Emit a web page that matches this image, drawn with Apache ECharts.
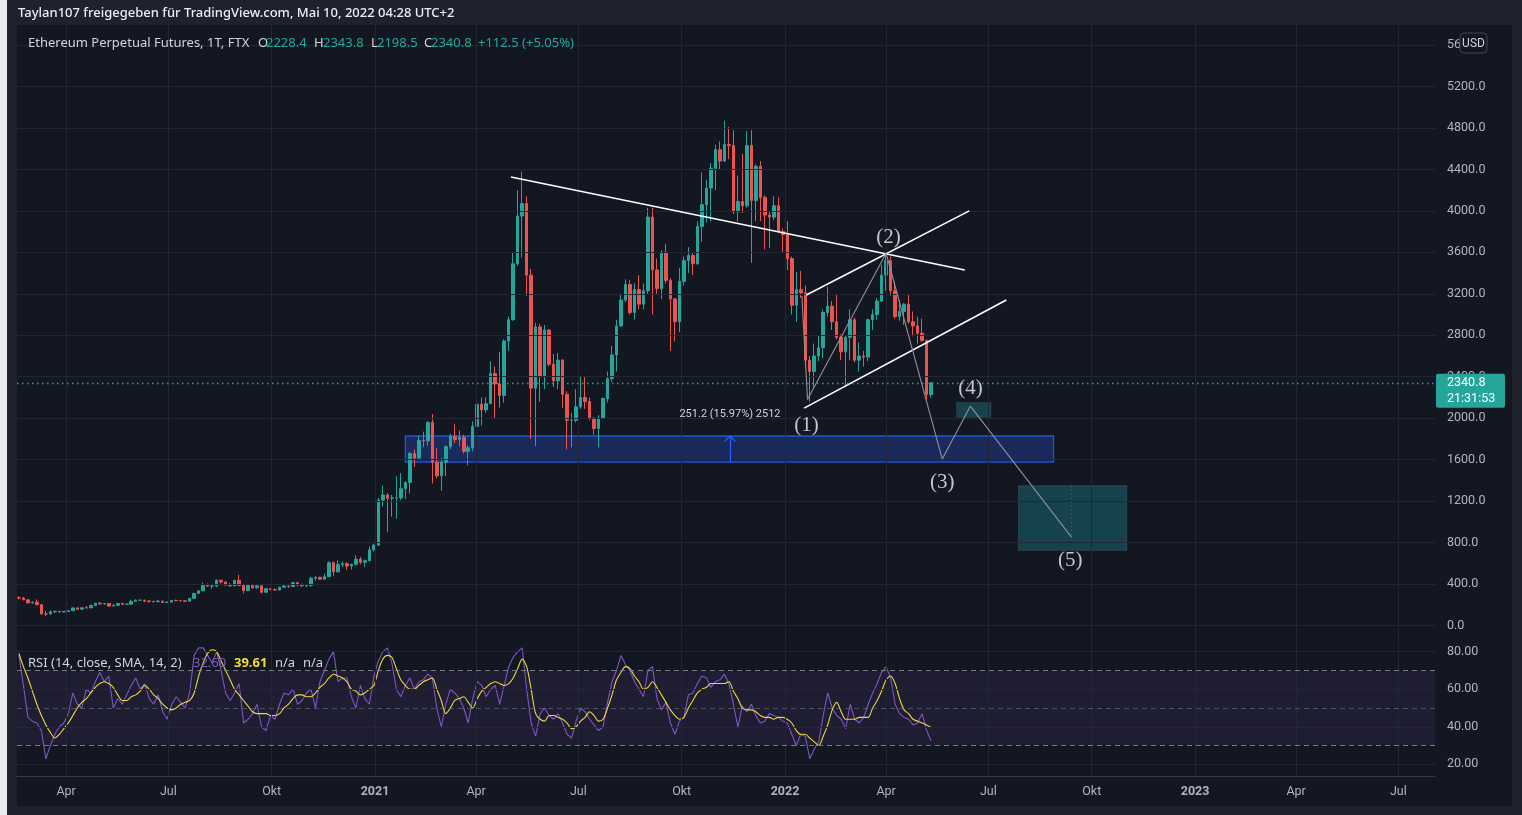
<!DOCTYPE html>
<html><head><meta charset="utf-8">
<script src="https://cdn.jsdelivr.net/npm/echarts@6/dist/echarts.min.js"></script>
<style>
html,body{margin:0;padding:0;width:1522px;height:815px;overflow:hidden;background:#1e222d;}
#strip{position:absolute;left:0;top:0;width:7px;height:815px;background:#e8eaef;}
#pane{position:absolute;left:17px;top:25px;width:1495px;height:781px;background:#131722;}
#chart{position:absolute;left:0;top:0;width:1522px;height:815px;}
</style></head><body>
<div id="strip"></div><div id="pane"></div><div id="chart"></div>
<script>
// ---------- data (4-day candles, ETH-PERP FTX) ----------
const candleStart = '2020-02-18';
const stepDays = 4;
const openV = [
267,265,248,218,225,200,112,110,133,138,
131,136,143,170,158,171,170,194,215,209,
212,188,195,213,206,206,232,244,244,237,
233,229,235,222,226,242,240,238,235,262,
310,335,386,380,380,437,420,390,383,435,
386,337,385,364,383,321,355,345,343,370,
381,377,413,393,385,385,455,465,447,471,
605,518,588,596,574,590,640,610,625,730,
775,1210,1260,1228,1230,1232,1320,1380,1660,1615,
1785,1780,1960,1575,1445,1575,1725,1825,1795,1815,
1680,1715,1920,2135,2080,2140,2430,2330,2220,2745,
2950,3490,3950,4070,3380,2290,2880,2400,2850,2520,
2360,2560,2230,1980,1980,2110,2200,2160,2000,1900,
2000,2190,2380,2610,2890,3140,3290,3020,3240,3100,
3230,3940,3430,3250,3600,3330,3150,2930,3320,3520,
3570,3490,3850,4060,4220,4410,4590,4480,4640,4630,
3990,4090,4050,4630,4100,4430,4130,3960,3940,4050,
3800,3770,3540,3090,3240,3210,2560,2450,2600,2680,
3020,3080,2930,2780,2640,2780,2950,2560,2600,2590,
2950,3000,3130,3380,3520,3230,2980,3030,3100,2930,
2890,2820,2750,2228.4];
const closeV = [
265,248,218,225,200,112,110,133,138,131,
136,143,170,158,171,170,194,215,209,212,
188,195,213,206,206,232,244,244,237,233,
229,235,222,226,242,240,238,235,262,310,
335,386,380,380,437,420,390,383,435,386,
337,385,364,383,321,355,345,343,370,381,
377,413,393,385,385,455,465,447,471,605,
518,588,596,574,590,640,610,625,730,775,
1210,1260,1228,1230,1232,1320,1380,1660,1615,1785,
1780,1960,1575,1445,1575,1725,1825,1795,1815,1680,
1715,1920,2135,2080,2140,2430,2330,2220,2745,2950,
3490,3950,4070,3380,2290,2880,2400,2850,2520,2360,
2560,2230,1980,1980,2110,2200,2160,2000,1900,2000,
2190,2380,2610,2890,3140,3290,3020,3240,3100,3230,
3940,3430,3250,3600,3330,3150,2930,3320,3520,3570,
3490,3850,4060,4220,4410,4590,4480,4640,4630,3990,
4090,4050,4630,4100,4430,4130,3960,3940,4050,3800,
3770,3540,3090,3240,3210,2560,2450,2600,2680,3020,
3080,2930,2780,2640,2780,2950,2560,2600,2590,2950,
3000,3130,3380,3520,3230,2980,3030,3100,2930,2890,
2820,2750,2228.4,2340.8];
const lowV = [
250,245,215,212,198,105,90,108,120,126,
124,135,142,150,152,168,169,193,200,198,
180,185,194,198,197,205,228,238,225,218,
223,226,218,221,223,235,235,228,233,260,
303,330,377,355,370,405,385,376,380,380,
310,330,355,355,310,316,340,338,338,365,
362,370,378,370,370,375,435,440,445,468,
480,510,565,535,540,580,590,565,620,715,
770,1150,900,1050,1030,1210,1220,1275,1530,1600,
1720,1735,1370,1420,1300,1440,1700,1760,1730,1660,
1545,1680,1900,1930,2050,2135,2000,2100,2150,2650,
2940,3470,3550,3180,1800,1730,2160,2280,2500,2300,
2280,2100,1700,1720,1960,2090,2090,1980,1840,1720,
1990,2150,2350,2450,2880,3120,3000,2950,3050,3050,
3200,3000,3200,3150,3300,2650,2740,2830,3280,3400,
3380,3480,3700,3890,3900,4200,4400,4470,4500,3970,
3900,3980,4030,3500,3900,3900,3630,3640,3910,3790,
3600,3430,3000,2930,3160,2500,2160,2300,2550,2580,
2980,2850,2760,2560,2300,2560,2540,2450,2500,2550,
2850,2950,3120,3230,3180,2960,2940,2900,2910,2790,
2720,2740,2180,2198.5];
const highV = [
285,275,250,232,252,205,140,145,140,140,
137,147,175,173,175,188,195,218,227,215,
216,205,215,216,210,248,253,249,249,239,
237,248,236,231,243,250,243,240,265,315,
337,415,405,398,443,440,424,410,440,490,
390,387,390,395,385,360,363,358,372,392,
385,415,420,405,395,470,475,470,500,620,
620,630,620,610,595,678,660,635,760,790,
1230,1350,1275,1260,1440,1470,1390,1675,1695,1830,
1870,1970,2040,1710,1620,1740,1850,1945,1880,1840,
1740,1970,2145,2200,2200,2550,2500,2640,2760,2980,
3600,4200,4380,4140,3440,2920,2910,2900,2860,2620,
2630,2570,2260,2050,2280,2400,2400,2200,2010,2030,
2200,2450,2700,2950,3200,3340,3330,3300,3380,3300,
4030,4030,3540,3620,3680,3350,3160,3450,3560,3650,
3600,3900,4370,4300,4460,4640,4670,4870,4810,4780,
4340,4550,4770,4780,4450,4480,4150,4000,4140,4130,
3830,3900,3560,3410,3420,3280,2600,2720,2800,3050,
3270,3130,3190,2810,2800,3050,2970,2730,2650,2960,
3050,3160,3480,3580,3560,3320,3140,3110,3190,3030,
2980,2960,2760,2343.8];
const rsiV = [
78,62,45,43,42,38,23,30,36,40,
42,47,58,52,50,60,58,64,69,64,
67,50,55,52,57,62,66,60,63,55,
52,57,48,44,52,56,53,50,58,78,
82,82,78,74,80,70,58,54,58,63,
42,44,47,52,40,38,46,44,52,58,
57,60,52,54,58,60,50,64,70,76,
80,64,66,66,56,50,62,55,52,67,
75,80,82,74,60,56,62,66,60,64,
65,68,66,50,40,52,60,58,55,50,
42,55,64,62,56,60,62,52,62,72,
77,80,82,60,42,35,47,50,46,44,
47,42,36,34,43,50,48,44,41,38,
40,53,64,70,78,73,70,64,60,56,
70,72,55,49,53,42,36,43,45,57,
58,63,67,66,61,64,65,68,63,52,
40,51,48,52,46,42,43,47,46,45,
43,42,36,30,36,35,23,28,32,46,
58,50,46,44,39,52,44,42,45,52,
58,63,69,72,66,52,47,45,44,41,
42,47,38,32.6];
const rsiSmaV = [
79,72,66,59,52,46,41,37,34,36,
39,42,46,50,53,55,58,61,63,64,
63,61,57,54,54,56,57,59,62,60,
57,55,52,50,49,50,52,53,54,58,
67,74,79,81,80,75,70,65,60,57,
54,51,48,47,47,47,46,46,47,50,
52,55,57,57,56,56,58,61,63,66,
68,67,66,64,60,59,57,58,60,62,
70,76,78,77,71,65,62,60,60,62,
64,65,66,60,54,47,50,54,55,56,
53,50,55,59,61,63,64,63,62,63,
66,71,76,72,60,47,44,43,46,46,
45,44,42,39,40,43,45,48,46,43,
44,50,57,65,69,72,71,67,64,60,
61,64,61,57,53,49,46,44,45,50,
54,58,60,61,63,63,63,63,64,59,
55,50,49,49,48,46,45,45,44,45,
45,44,42,38,36,36,34,32,30,35,
41,49,53,48,44,44,44,45,45,45,
50,54,59,65,67,63,55,49,47,44,
43,42,41,39.61];
const priceTicks = [0,400,800,1200,1600,2000,2400,2800,3200,3600,4000,4400,4800,5200,5600];
const rsiTicks = [20,40,60,80];
const rsiLevels = [30,50,70];
const timeTicks = [['2020-04-01','Apr'],['2020-07-01','Jul'],['2020-10-01','Okt'],['2021-01-01','2021'],
  ['2021-04-01','Apr'],['2021-07-01','Jul'],['2021-10-01','Okt'],['2022-01-01','2022'],['2022-04-01','Apr'],
  ['2022-07-01','Jul'],['2022-10-01','Okt'],['2023-01-01','2023'],['2023-04-01','Apr'],['2023-07-01','Jul']];
// drawings (date, price)
const resistanceLine = [['2021-05-02',4327],['2022-06-10',3430]];
const channelUpper = [['2022-01-20',3189],['2022-06-14',4000]];
const channelLower = [['2022-01-18',2097],['2022-07-17',3140]];
const wavePath = [['2022-01-16',3179],['2022-01-21',2180],['2022-04-01',3591],['2022-05-21',1606],['2022-06-15',2117],['2022-09-13',853]];
const waveLabels = [['2022-01-20',1934,'(1)'],['2022-04-03',3748,'(2)'],['2022-05-21',1384,'(3)'],['2022-06-15',2291,'(4)'],['2022-09-12',632,'(5)']];
const supportZone = [['2021-01-28',1828],['2022-08-28',1577]];
const target4Zone = [['2022-06-03',2147],['2022-07-03',2012]];
const target5Zone = [['2022-07-28',1346],['2022-11-01',728]];
const measure = {date:'2021-11-13', from:1577, to:1828, labelPrice:2040, text:'251.2 (15.97%) 2512'};

// ---------- helpers ----------
const T0 = Date.UTC(2021,0,1);
function dayNum(s){const p=s.split('-').map(Number);return (Date.UTC(p[0],p[1]-1,p[2])-T0)/86400000;}
const xMin = -318.7, xMax = 943.6;       // visible time range (days from 2021-01-01)
const yMin = -188, yMax = 5793;          // visible price range
const rMin = 13.8, rMax = 83.0;          // visible RSI range
const xs = openV.map((_, i) => dayNum(candleStart) + i * stepDays + 1);
const candleData = xs.map((x, i) => [x, openV[i], closeV[i], lowV[i], highV[i]]);
const tickDays = timeTicks.map(t => dayNum(t[0]));
const tickName = {}; timeTicks.forEach(t => tickName[dayNum(t[0])] = t[1]);
const last = closeV.length - 1;
const GRID = '#232733';
const pt = (a) => [dayNum(a[0]), a[1]];
function seg(a, b, style){ return [{coord: pt(a), lineStyle: style}, {coord: pt(b)}]; }
const white = {color:'#ffffff', width:1.6, type:'solid'};
const waveStyle = {color:'#8f929b', width:1.1, type:'solid'};
const lines = [
  seg(resistanceLine[0], resistanceLine[1], white),
  seg(channelUpper[0], channelUpper[1], white),
  seg(channelLower[0], channelLower[1], white)
];
for (let i = 0; i < wavePath.length - 1; i++) lines.push(seg(wavePath[i], wavePath[i+1], waveStyle));
const md = dayNum(measure.date);
const blue = {color:'#2962ff', width:1.2, type:'solid'};
lines.push([{coord:[md, measure.from], lineStyle:blue},{coord:[md, measure.to]}]);
lines.push([{coord:[md-4.7, measure.to-50], lineStyle:blue},{coord:[md, measure.to]}]);
lines.push([{coord:[md+4.7, measure.to-50], lineStyle:blue},{coord:[md, measure.to]}]);
lines.push([{coord:[dayNum(wavePath[5][0]), target5Zone[0][1]], lineStyle:{color:'rgba(150,110,200,0.6)', width:1, type:[1,3]}},{coord:[dayNum(wavePath[5][0]), wavePath[5][1]]}]);
lines.push([{coord:[xMin, closeV[last]], lineStyle:{color:'#26a69a', width:1.3, type:[1.5,3.5], opacity:1}},{coord:[xMax, closeV[last]]}]);
function zone(z, fill, border){ return [{coord: pt(z[0]), itemStyle:{color:fill, borderColor:border, borderWidth:1.3}}, {coord: pt(z[1])}]; }
const labelFont = {color:'#c3c6ce', fontSize:21, fontFamily:'Liberation Serif'};
function txt(id, x, y, text, fill, opts){
  return Object.assign({id, type:'text', x, y, z:100, style:Object.assign({text, fill, fontSize:13, fontFamily:'Noto Sans', fontWeight:'normal', verticalAlign:'middle'}, opts||{})});
}

const chart = echarts.init(document.getElementById('chart'), null, {renderer:'canvas', width:1522, height:815});
const axisText = {color:'#b2b5be', fontSize:12.5, fontFamily:'Roboto'};
chart.setOption({
  animation:false,
  backgroundColor:'transparent',
  grid:[{left:17, top:25, width:1418, height:620},{left:17, top:646, width:1418, height:130}],
  xAxis:[
    {type:'value', gridIndex:0, min:xMin, max:xMax, axisLabel:{show:false}, axisTick:{show:false}, splitLine:{show:false},
     axisLine:{show:true, lineStyle:{color:'#2a2e39', width:1}}},
    {type:'value', gridIndex:1, min:xMin, max:xMax, axisTick:{show:false}, splitLine:{show:false},
     axisLine:{show:true, lineStyle:{color:'#363a45', width:1}},
     axisLabel:{show:true, customValues:tickDays, margin:9, ...axisText,
       formatter:(v)=>{const n = tickName[Math.round(v)] || ''; return /^\d{4}$/.test(n) ? '{b|'+n+'}' : n;},
       rich:{b:{fontWeight:'bold', color:'#b2b5be', fontSize:12.5, fontFamily:'Roboto'}}}}
  ],
  yAxis:[
    {type:'value', gridIndex:0, position:'right', min:yMin, max:yMax, splitLine:{show:false}, axisTick:{show:false},
     axisLine:{show:true, lineStyle:{color:'#2a2e39'}},
     axisLabel:{customValues:priceTicks, margin:12, ...axisText, formatter:(v)=>v.toFixed(1)}},
    {type:'value', gridIndex:1, position:'right', min:rMin, max:rMax, splitLine:{show:false}, axisTick:{show:false},
     axisLine:{show:true, lineStyle:{color:'#2a2e39'}},
     axisLabel:{customValues:rsiTicks, margin:12, ...axisText, formatter:(v)=>v.toFixed(2)}}
  ],
  series:[
    {type:'line', xAxisIndex:0, yAxisIndex:0, data:[], silent:true, z:1,
     markLine:{silent:true, symbol:['none','none'], label:{show:false}, lineStyle:{color:GRID, width:1, type:'solid'},
       data:[...tickDays.map(v=>({xAxis:v})), ...priceTicks.map(v=>({yAxis:v}))]}},
    {type:'line', xAxisIndex:1, yAxisIndex:1, data:[], silent:true, z:1,
     markArea:{silent:true, itemStyle:{color:'rgba(126,87,194,0.1)'}, data:[[{yAxis:rsiLevels[0]},{yAxis:rsiLevels[2]}]]},
     markLine:{silent:true, symbol:['none','none'], label:{show:false}, lineStyle:{color:GRID, width:1, type:'solid'},
       data:[...tickDays.map(v=>({xAxis:v})), ...rsiTicks.map(v=>({yAxis:v})),
         {yAxis:rsiLevels[0], lineStyle:{color:'#787b86', type:[5,4], width:1}},
         {yAxis:rsiLevels[1], lineStyle:{color:'rgba(120,123,134,0.55)', type:[5,4], width:1}},
         {yAxis:rsiLevels[2], lineStyle:{color:'#787b86', type:[5,4], width:1}}]}},
    {type:'candlestick', xAxisIndex:0, yAxisIndex:0, data:candleData, encode:{x:0, y:[1,2,3,4]}, barWidth:3, z:3,
     itemStyle:{color:'#26a69a', color0:'#ef5350', borderColor:'#26a69a', borderColor0:'#ef5350', borderWidth:1}},
    {type:'line', xAxisIndex:0, yAxisIndex:0, data:[], silent:true, z:5,
     markArea:{silent:true, data:[
       zone(supportZone, 'rgba(41,98,255,0.26)', 'rgba(41,98,255,0.8)'),
       zone(target4Zone, 'rgba(25,120,130,0.45)', 'rgba(40,70,80,0.9)'),
       zone(target5Zone, 'rgba(25,120,130,0.45)', 'rgba(40,70,80,0.9)')]},
     markLine:{silent:true, symbol:['none','none'], label:{show:false}, data:lines},
     markPoint:{silent:true, symbol:'circle', symbolSize:1, itemStyle:{color:'rgba(0,0,0,0)'},
       data:[...waveLabels.map(w=>({coord:[dayNum(w[0]), w[1]], label:{show:true, position:'inside', formatter:w[2], ...labelFont}})),
         {coord:[md, measure.labelPrice], label:{show:true, position:'inside', formatter:measure.text, color:'#d1d4dc', fontSize:11, fontFamily:'Roboto'}}]}},
    {type:'line', xAxisIndex:1, yAxisIndex:1, data:xs.map((x,i)=>[x, rsiV[i]]), symbol:'none', z:3,
     lineStyle:{color:'#7e57c2', width:1.1}},
    {type:'line', xAxisIndex:1, yAxisIndex:1, data:xs.map((x,i)=>[x, rsiSmaV[i]]), symbol:'none', smooth:0.3, z:4,
     lineStyle:{color:'#ecd93a', width:1.1}}
  ],
  graphic:[
    txt('hdr', 18, 13, 'Taylan107 freigegeben für TradingView.com, Mai 10, 2022 04:28 UTC+2', '#eceef3', {fontSize:13, fontWeight:500}),
    txt('lg1', 28, 43, 'Ethereum Perpetual Futures, 1T, FTX', '#d1d4dc'),
    txt('lgO', 258, 43, 'O', '#d1d4dc'),
    txt('lgOv', 266, 43, openV[last].toFixed(1), '#26a69a'),
    txt('lgH', 314, 43, 'H', '#d1d4dc'),
    txt('lgHv', 323, 43, highV[last].toFixed(1), '#26a69a'),
    txt('lgL', 371, 43, 'L', '#d1d4dc'),
    txt('lgLv', 377, 43, lowV[last].toFixed(1), '#26a69a'),
    txt('lgC', 424, 43, 'C', '#d1d4dc'),
    txt('lgCv', 431, 43, closeV[last].toFixed(1), '#26a69a'),
    txt('lgChg', 478, 43, '+112.5 (+5.05%)', '#26a69a'),
    txt('r1', 28, 663, 'RSI (14, close, SMA, 14, 2)', '#d1d4dc'),
    txt('r2', 193, 663, rsiV[last].toFixed(2), '#7e57c2'),
    txt('r3', 234, 663, rsiSmaV[last].toFixed(2), '#f2dc3a', {fontWeight:'bold'}),
    txt('r4', 275, 663, 'n/a', '#d1d4dc'),
    txt('r5', 303, 663, 'n/a', '#d1d4dc'),
    {id:'usdBox', type:'rect', z:100, shape:{x:1460, y:33, width:27, height:20, r:4}, style:{fill:'#131722', stroke:'#434651', lineWidth:1}},
    txt('usdTxt', 1473.5, 43.5, 'USD', '#d1d4dc', {fontSize:12, fontFamily:'Roboto', align:'center'})
  ]
});
const py = chart.convertToPixel({yAxisIndex:0}, closeV[last]);
chart.setOption({graphic:[
  {id:'pBox', type:'rect', z:100, shape:{x:1436, y:py-9, width:69, height:34, r:2}, style:{fill:'#26a69a'}},
  txt('pTxt', 1447, py, closeV[last].toFixed(1), '#ffffff', {fontSize:12.5, fontFamily:'Roboto'}),
  txt('pTim', 1447, py+16, '21:31:53', '#ffffff', {fontSize:12.5, fontFamily:'Roboto'})
]});
</script></body></html>
